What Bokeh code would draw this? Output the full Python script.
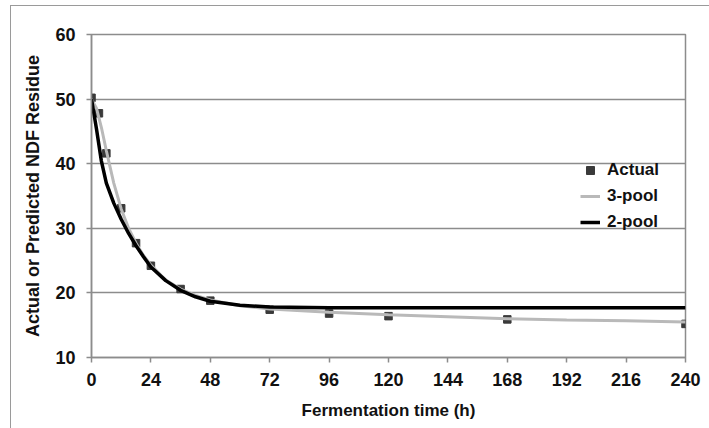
from bokeh.plotting import figure
from bokeh.models import Range1d, FixedTicker, Legend, LegendItem, InlineStyleSheet
from bokeh.embed import file_html
from bokeh.resources import INLINE

# Observed NDF residue (actual) by fermentation time
hours_obs = [0, 3, 6, 12, 18, 24, 36, 48, 72, 96, 120, 168, 240]
ndf_actual = [50.2, 47.8, 41.6, 33.1, 27.7, 24.2, 20.6, 18.8, 17.4, 16.8, 16.4, 15.9, 15.2]

# Fitted model curves
hours_fit = [0, 2, 4, 6, 9, 12, 15, 18, 21, 24, 30, 36, 42, 48, 60, 72, 96, 120, 144, 168, 192, 216, 240]
ndf_3pool = [50.0, 48.6, 45.6, 42.0, 37.0, 33.0, 30.0, 27.7, 25.8, 24.3, 22.0, 20.6, 19.6, 18.9,
             18.0, 17.5, 17.0, 16.6, 16.3, 16.0, 15.8, 15.7, 15.5]
ndf_2pool = [50.0, 45.4, 40.4, 37.0, 33.9, 31.4, 29.2, 27.3, 25.6, 24.0, 21.9, 20.4, 19.4, 18.7,
             18.1, 17.8, 17.7, 17.7, 17.7, 17.7, 17.7, 17.7, 17.7]

x_ticks = [0, 24, 48, 72, 96, 120, 144, 168, 192, 216, 240]
y_ticks = [10, 20, 30, 40, 50, 60]

FONT = "Liberation Sans"
GRID = "#8c8c8c"

# thin frame drawn around the whole figure (open to the right and bottom)
frame_css = InlineStyleSheet(css="""
:host { position: relative; }
:host::after {
  content: "";
  position: absolute;
  left: 10px; top: 5px; right: -40px; bottom: -40px;
  border-left: 1.5px solid #9a9a9a;
  border-top: 1.5px solid #9a9a9a;
  pointer-events: none;
  z-index: 10;
}
""")

p = figure(width=709, height=428, output_backend="svg", toolbar_location=None,
           x_range=Range1d(0, 240), y_range=Range1d(10, 60))
p.stylesheets = [frame_css]
p.min_border_left = 91
p.min_border_right = 24
p.min_border_top = 34
p.min_border_bottom = 71
p.outline_line_color = GRID
p.outline_line_width = 1.5

p.xgrid.visible = False
p.ygrid.grid_line_color = GRID
p.ygrid.grid_line_width = 1.5

for ax in (p.xaxis, p.yaxis):
    ax.axis_line_color = GRID
    ax.axis_line_width = 1.5
    ax.major_tick_line_color = GRID
    ax.major_tick_line_width = 1.5
    ax.major_tick_out = 5
    ax.major_tick_in = 0
    ax.minor_tick_line_color = None
    ax.major_label_text_font = FONT
    ax.major_label_text_font_style = "bold"
    ax.major_label_text_font_size = "18px"
    ax.major_label_text_color = "#111111"
    ax.axis_label_text_font = FONT
    ax.axis_label_text_font_style = "bold"
    ax.axis_label_text_color = "#111111"

p.xaxis.axis_label_text_font_size = "17px"
p.yaxis.axis_label_text_font_size = "18px"
p.xaxis.ticker = FixedTicker(ticks=x_ticks)
p.yaxis.ticker = FixedTicker(ticks=y_ticks)
p.xaxis.axis_label = "Fermentation time (h)"
p.yaxis.axis_label = "Actual or Predicted NDF Residue"
p.xaxis.major_label_standoff = 10
p.yaxis.major_label_standoff = 11
p.xaxis.axis_label_standoff = 12
p.yaxis.axis_label_standoff = 9

r_act = p.scatter(hours_obs, ndf_actual, marker="square", size=7.5,
                  fill_color="#3a3a3a", line_color="#3a3a3a")
r_3 = p.line(hours_fit, ndf_3pool, line_color="#b9b9b9", line_width=3)
r_2 = p.line(hours_fit, ndf_2pool, line_color="#000000", line_width=3.5)

legend = Legend(items=[LegendItem(label="Actual", renderers=[r_act]),
                       LegendItem(label="3-pool", renderers=[r_3]),
                       LegendItem(label="2-pool", renderers=[r_2])],
                location=(489, 125))
legend.background_fill_alpha = 0
legend.border_line_color = None
legend.padding = 0
legend.margin = 0
legend.spacing = 6
legend.glyph_width = 20
legend.glyph_height = 20
legend.label_height = 20
legend.label_standoff = 7
legend.label_text_font = FONT
legend.label_text_font_style = "bold"
legend.label_text_font_size = "17px"
legend.label_text_color = "#111111"
p.add_layout(legend, "center")

open("out.html", "w").write(file_html(p, INLINE))
